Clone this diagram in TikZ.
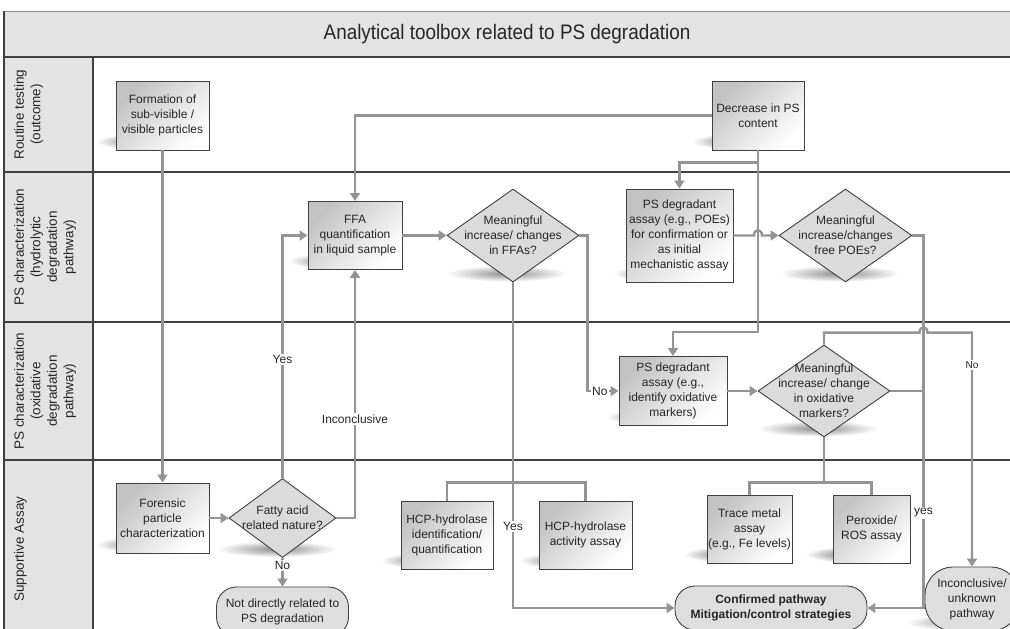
\documentclass[tikz,border=0pt]{standalone}
\usepackage{fontspec}
\setmainfont{Liberation Sans}
\newfontfamily\titlefont[FakeStretch=0.9]{Liberation Sans}
\usetikzlibrary{shapes.geometric,arrows.meta,calc,fadings,backgrounds}

\tikzfading[name=softshade, inner color=transparent!0, outer color=transparent!100]

\tikzset{
    box/.style={draw=black!75, line width=0.9pt, shading=axis, top color=black!24,
        bottom color=white, shading angle=45, minimum width=93, minimum height=69,
        align=center, inner sep=1pt, font=\fontsize{12}{15}\selectfont, text=black!85},
    dia/.style={diamond, draw=black!75, line width=0.9pt, fill=black!14,
        minimum width=132, minimum height=93, inner sep=0pt},
    diatext/.style={align=center, font=\fontsize{12}{15}\selectfont, text=black!85},
    term/.style={draw=black!75, line width=0.9pt, fill=black!13, rounded corners=20,
        align=center, inner sep=1pt, font=\fontsize{12}{15}\selectfont, text=black!85},
    lane/.style={rotate=90, anchor=north, align=center, inner sep=1pt,
        font=\fontsize{13.5}{16.5}\selectfont, text=black!85},
    line/.style={draw=black!42, line width=2.4pt},
    conn/.style={line, -{Triangle[length=8pt,width=10pt]}},
    lbl/.style={fill=white, inner sep=1.5pt, font=\fontsize{12}{14}\selectfont, text=black!85},
    lblsmall/.style={lbl, font=\fontsize{10}{12}\selectfont}
}

\begin{document}
\begin{tikzpicture}[x=1pt, y=-1pt]
\useasboundingbox (0,0) rectangle (1010,629);
\clip (0,0) rectangle (1010,629);

% lanes
\fill[black!11] (4,11) rectangle (1030,57);
\fill[black!11] (4,57) rectangle (93,650);
\draw[black!45, line width=1pt] (4,11) -- (1030,11);
\draw[black!75, line width=1.2pt] (4,11) -- (4,650);
\draw[black!75, line width=1.5pt] (4,57) -- (1030,57);
\draw[black!75, line width=1.5pt] (93,57) -- (93,650);
\foreach \y in {172,322,460}
    \draw[black!75, line width=1.3pt] (4,\y) -- (1030,\y);

\node[font=\titlefont\fontsize{21}{25}\selectfont, text=black!85] (title) at (507,34.5)
    {Analytical toolbox related to PS degradation};

\node[lane] (l1) at (13,114.5) {Routine testing\\(outcome)};
\node[lane] (l2) at (13,247) {PS characterization\\(hydrolytic\\degradation\\pathway)};
\node[lane] (l3) at (13,391) {PS characterization\\(oxidative\\degradation\\pathway)};
\node[lane] (l4) at (13,549) {Supportive Assay};

% routine testing
\node[box] (form) at (162.5,115.5) {Formation of\\sub-visible /\\visible particles};
\node[box, minimum width=92] (decr) at (758,115.5) {Decrease in PS\\content};

% hydrolytic pathway
\node[box, minimum width=94, minimum height=68] (ffa) at (355,235.5)
    {FFA\\quantification\\in liquid sample};
\node[dia, label={[diatext]center:{Meaningful\\increase/ changes\\in FFAs?}}] (dec1) at (513,235.5) {};
\node[box, minimum width=107, minimum height=93] (poes) at (679.5,235.5)
    {PS degradant\\assay (e.g., POEs)\\for confirmation or\\as initial\\mechanistic assay};
\node[dia, minimum width=133, label={[diatext]center:{Meaningful\\increase/changes\\free POEs?}}] (dec2) at (845.5,235.5) {};

% oxidative pathway
\node[box, minimum width=108] (oxa) at (673,391)
    {PS degradant\\assay (e.g.,\\identify oxidative\\markers)};
\node[dia, minimum height=92, label={[diatext]center:{Meaningful\\increase/ change\\in oxidative\\markers?}}] (dec3) at (824,391) {};

% supportive assays
\node[box, minimum height=70] (foren) at (162.5,518) {Forensic\\particle\\characterization};
\node[dia, minimum width=107, minimum height=79, label={[diatext]center:{Fatty acid\\related nature?}}] (dec4) at (282.5,518) {};
\node[term, minimum width=132, minimum height=50] (notrel) at (282.5,612)
    {Not directly related to\\PS degradation};
\node[box, minimum width=92, minimum height=68] (hcpi) at (447,535)
    {HCP-hydrolase\\identification/\\quantification};
\node[box, minimum width=93, minimum height=68] (hcpa) at (585.5,535)
    {HCP-hydrolase\\activity assay};
\node[box, minimum width=85, minimum height=68] (trace) at (749.5,529)
    {Trace metal\\assay\\(e.g., Fe levels)};
\node[box, minimum width=77, minimum height=68] (perox) at (871.5,529) {Peroxide/\\ROS assay};
\node[term, minimum width=192, minimum height=44, font=\bfseries\fontsize{12}{15}\selectfont] (conf) at (771,608)
    {Confirmed pathway\\Mitigation/control strategies};
\node[term, minimum width=94, minimum height=64, rounded corners=28] (incon) at (972,599)
    {Inconclusive/\\unknown\\pathway};

% soft shadows
\begin{scope}[on background layer]
\foreach \n in {form,decr,ffa,poes,oxa,foren,hcpi,hcpa,trace,perox}
    \fill[black, opacity=.55, path fading=softshade] ($(\n.south)+(-20,-9)$) ellipse [x radius=46, y radius=8];
\foreach \n in {dec1,dec2,dec3,dec4,notrel,conf,incon}
    \fill[black, opacity=.45, path fading=softshade] ($(\n.south)+(-6,-9)$) ellipse [x radius=60, y radius=8];
\end{scope}

% connectors
\coordinate (yesx) at ($(dec2.east)+(11,0)$);
\coordinate (topy) at ($(dec3.north)+(0,-12)$);

\draw[conn] (form) -- (foren);
\draw[conn] (decr.west) -| (ffa.north);
\draw[conn] (decr.south) -- ++(0,12) -| (poes.north);
\draw[conn] (decr.south) |- ($(oxa.north)+(0,-24)$) -- (oxa.north);
\draw[conn] (ffa.east) -- (dec1.west);
\draw[conn] (dec1.east) -- ++(8,0) |- node[pos=0.7, lbl]{No} (oxa.west);
\draw[conn] (dec1.south) |- node[pos=0.375, lbl]{Yes} (conf.west);
\draw[conn] (poes.east) -- ($(poes.east -| decr.south)+(-4,0)$)
    .. controls +(0,-7) and +(0,-7) .. ($(poes.east -| decr.south)+(4,0)$) -- (dec2.west);
\draw[conn] (dec2.east) -- (yesx) |- node[pos=0.372, lbl]{yes} (conf.east);
\draw[line] (dec3.east) -- (dec3.east -| yesx);
\draw[conn] (dec3.north) -- (topy) -- ($(topy -| yesx)+(-4,0)$)
    .. controls +(0,-7) and +(0,-7) .. ($(topy -| yesx)+(4,0)$)
    -| node[pos=0.57, lblsmall]{No} (incon.north);
\draw[conn] (oxa.east) -- (dec3.west);
\draw[line] (dec3.south) -- ++(0,45) -| (trace.north);
\draw[line] (dec3.south) -- ++(0,45) -| (perox.north);
\draw[line] (hcpi.north) -- ++(0,-18) -| (hcpa.north);
\draw[conn] (foren) -- (dec4);
\draw[conn] (dec4.north) |- node[pos=0.245, lbl]{Yes} (ffa.west);
\draw[conn] (dec4.east) -| node[pos=0.7, lbl]{Inconclusive} (ffa.south);
\draw[conn] (dec4.south) -- node[pos=0.27, lbl]{No} (notrel);
\end{tikzpicture}
\end{document}
